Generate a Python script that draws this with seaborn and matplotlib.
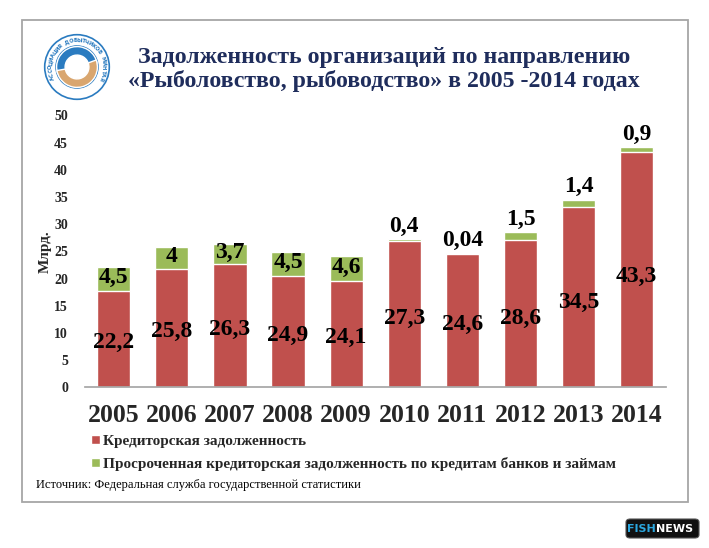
import numpy as np
import pandas as pd
import seaborn as sns
import matplotlib.pyplot as plt
from matplotlib.patches import Rectangle, Circle, Wedge, Patch, FancyBboxPatch

# data
years = ["2005", "2006", "2007", "2008", "2009", "2010", "2011", "2012", "2013", "2014"]
credit_debt = [17.7, 21.8, 22.6, 20.4, 19.5, 26.9, 24.56, 27.1, 33.1, 43.3]
overdue_debt = [4.5, 4.0, 3.7, 4.5, 4.6, 0.4, 0.04, 1.5, 1.4, 0.9]
total_labels = [22.2, 25.8, 26.3, 24.9, 24.1, 27.3, 24.6, 28.6, 34.5, 43.3]
y_ticks = [0, 5, 10, 15, 20, 25, 30, 35, 40, 45, 50]

RED = "#C0504D"
GREEN = "#9BBB59"
NAVY = "#1F2D5C"
SERIF = "Liberation Serif"

W, H = 709, 548


def fx(px):
    return px / W


def fy(py):
    return 1 - py / H


def fmt(v):
    return "{:g}".format(v).replace(".", ",")


sns.set_theme(style="white")
plt.rcParams["font.family"] = [SERIF, "DejaVu Serif"]

df = pd.DataFrame({"year": years, "credit": credit_debt, "overdue": overdue_debt})
df["top"] = df["credit"] + df["overdue"]

fig = plt.figure(figsize=(W / 100, H / 100), dpi=100)
fig.patch.set_facecolor("white")

# outer frame
fig.patches.append(Rectangle((fx(22), fy(502)), fx(688) - fx(22), fy(19.5) - fy(502),
                             transform=fig.transFigure, fill=False,
                             edgecolor="#A6A6A6", lw=1.3))

ax = fig.add_axes([fx(84.7), fy(387.3), fx(665.7) - fx(84.7), fy(115.3) - fy(387.3)])

sns.barplot(data=df, x="year", y="top", color=GREEN, width=0.57, saturation=1, ax=ax)
sns.barplot(data=df, x="year", y="credit", color=RED, width=0.57, saturation=1, ax=ax)

ax.set_xlim(-0.5, len(years) - 0.5)
ax.set_ylim(0, 50)
ax.set_yticks(y_ticks)
ax.set_yticklabels([str(t) for t in y_ticks], fontsize=10, fontweight="bold")
ax.set_xticks(range(len(years)))
ax.set_xticklabels(years, fontsize=18.5, fontweight="bold")
ax.tick_params(axis="x", pad=12, length=0)
ax.tick_params(axis="y", pad=12, length=0)
ax.set_xlabel("")
ax.set_ylabel("Млрд.", fontsize=11, fontweight="bold", labelpad=2)
for s in ["top", "right", "left"]:
    ax.spines[s].set_visible(False)
ax.spines["bottom"].set_color("#A6A6A6")
ax.set_facecolor("white")
ax.grid(False)

for i, row in df.iterrows():
    ax.text(i, row["credit"] * 0.47, fmt(total_labels[i]), ha="center", va="center",
            fontsize=17, fontweight="bold", color="black")
    if row["overdue"] >= 2:
        ax.text(i, row["credit"] + row["overdue"] / 2 + 0.3, fmt(row["overdue"]),
                ha="center", va="center", fontsize=17, fontweight="bold", color="black")
    else:
        ax.text(i, row["top"] + 0.4, fmt(row["overdue"]), ha="center", va="bottom",
                fontsize=17, fontweight="bold", color="black")

# title
fig.text(fx(384), fy(58), "Задолженность организаций по направлению", ha="center", va="center",
         fontsize=17.2, fontweight="bold", color=NAVY)
fig.text(fx(384), fy(81), "«Рыболовство, рыбоводство» в 2005 -2014 годах", ha="center", va="center",
         fontsize=17.2, fontweight="bold", color=NAVY)

# legend
handles = [Patch(facecolor=RED, label="Кредиторская задолженность"),
           Patch(facecolor=GREEN, label="Просроченная кредиторская задолженность по кредитам банков и займам")]
fig.legend(handles=handles, loc="upper left", bbox_to_anchor=(fx(85), fy(429)),
           frameon=False, handlelength=0.55, handleheight=0.55, handletextpad=0.25,
           labelspacing=0.6, borderaxespad=0,
           prop={"family": SERIF, "weight": "bold", "size": 11})

fig.text(fx(36), fy(485), "Источник: Федеральная служба государственной статистики",
         ha="left", va="center", fontsize=9, color="black")

# association logo
lax = fig.add_axes([fx(43), fy(101), fx(111) - fx(43), fy(33) - fy(101)])
lax.set_xlim(-1, 1)
lax.set_ylim(-1, 1)
lax.set_aspect("equal")
lax.axis("off")
lax.add_patch(Circle((0, 0), 0.95, facecolor="white", edgecolor="#2A7BC0", lw=1.2))
lax.add_patch(Circle((0, 0), 0.62, facecolor="white", edgecolor="#2A7BC0", lw=1.0))
lax.add_patch(Wedge((0, 0), 0.6, 10, 200, width=0.25, facecolor="#2A7BC0"))
lax.add_patch(Wedge((0, 0), 0.6, 190, 380, width=0.25, facecolor="#D9A66F"))
logo_text = "АССОЦИАЦИЯ ДОБЫТЧИКОВ МИНТАЯ"
angles = np.linspace(205, -25, len(logo_text))
for ch, a in zip(logo_text, angles):
    r = np.deg2rad(a)
    lax.text(0.78 * np.cos(r), 0.78 * np.sin(r), ch, ha="center", va="center",
             rotation=a - 90, fontsize=3.8, fontweight="bold", color="#2A7BC0",
             family="DejaVu Sans")

# fishnews badge
fig.patches.append(FancyBboxPatch((fx(626), fy(538)), fx(699) - fx(626), fy(519) - fy(538),
                                  boxstyle="round,pad=0,rounding_size=0.006",
                                  transform=fig.transFigure, facecolor="#111111",
                                  edgecolor="#555555", lw=0.8))
fig.text(fx(656), fy(528.5), "FISH", ha="right", va="center", fontsize=8,
         fontweight="bold", color="#2BA8E0", family="DejaVu Sans")
fig.text(fx(656), fy(528.5), "NEWS", ha="left", va="center", fontsize=8,
         fontweight="bold", color="white", family="DejaVu Sans")

fig.savefig("out.png", dpi=100, facecolor="white")
